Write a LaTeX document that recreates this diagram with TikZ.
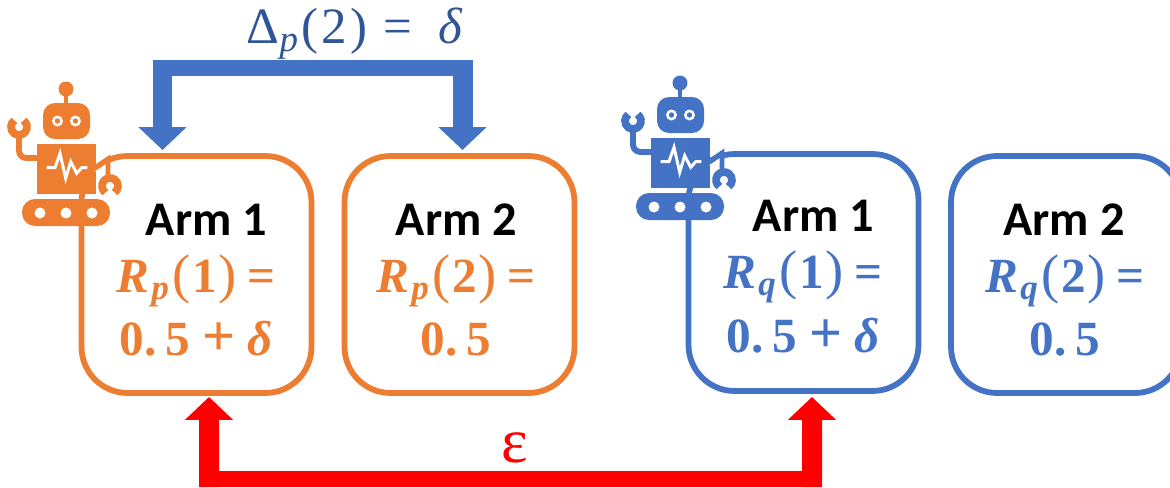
\documentclass[tikz,border=0pt]{standalone}
\usepackage[no-math]{fontspec}
\setmainfont{Carlito}
\newfontfamily\armmath{Liberation Serif}
\usetikzlibrary{arrows.meta}
\definecolor{armorange}{HTML}{ED7D31}
\definecolor{armblue}{HTML}{4472C4}
\definecolor{deltablue}{HTML}{2F5597}
\tikzset{
    armbox/.style={draw,line width=3.3pt,rounded corners=0.92cm,minimum width=4.6cm,minimum height=4.74cm,inner sep=0pt,outer sep=0pt},
    armtitle/.style={anchor=base,font=\fontsize{27.5}{30}\selectfont\bfseries,inner sep=0pt},
    armvalue/.style={anchor=base,font=\fontsize{28}{30}\selectfont\armmath\bfseries,inner sep=0pt},
    flowarrow/.style={-{Triangle[width=0.94cm,length=0.46cm]},line width=0.4cm},
    flowbar/.style={line width=0.32cm},
}
% bold rate and value lines of a box
\newcommand{\armrate}[2]{\textit{R}\kern1pt\raisebox{-4pt}{\fontsize{20}{20}\selectfont\textit{#1}}\kern2pt{\mdseries\fontsize{31}{30}\selectfont(}\kern1pt#2\kern1pt{\mdseries\fontsize{31}{30}\selectfont)}\kern6pt=}
\newcommand{\armhalf}{0.\kern5pt5}
\newcommand{\armsum}{\armhalf\kern7pt{\fontsize{33}{30}\selectfont+}\kern7pt\textit{δ}}
% robot, drawn at the position of the orange one and shifted by #1
\newcommand{\drawrobot}[2]{
    \begin{scope}[shift={(#1)}]
        \fill[#2] (66,89) circle (7.5);
        \fill[#2] (64,90) rectangle (68,105);
        \fill[#2,rounded corners=2.4mm] (43,103) rectangle (90,139);
        \foreach \x in {57.5,75.5} {
            \fill[white] (\x,121) circle (5.5);
            \fill[#2] (\x,121) circle (2.7);
        }
        \fill[#2] (37,144) rectangle (96,194);
        \draw[white,line width=1.7pt] (46.7,167.7) -- (55,167.7) -- (60,153.3) -- (65.7,178.3) -- (70.7,161.7) -- (76.7,173.3) -- (81.7,167.7) -- (87.3,167.7);
        % arms
        \draw[#2,line width=3.4pt,rounded corners=1.5mm] (38,158) -- (19,158) -- (19,136);
        \draw[#2,line width=4.4pt] ([shift={(305:8)}]19,127) arc[start angle=305,end angle=595,radius=8];
        \draw[white,line width=1.4pt] (96,172) -- (108,164);
        \draw[#2,line width=2.8pt] (95,168) -- (108,159) -- (108,178);
        \draw[#2,line width=4.4pt] ([shift={(125:8)}]110,186) arc[start angle=125,end angle=415,radius=8];
        % tracks
        \fill[#2,rounded corners=2.6mm] (22,199) rectangle (110,226);
        \foreach \x in {40,66,92}
            \fill[white] (\x,213) circle (5.5);
    \end{scope}
}
\begin{document}
\begin{tikzpicture}[x=0.02cm,y=-0.02cm]
    \clip (0,0) rectangle (1170,487);
    % boxes
    \node[armbox,draw=armorange] (armpa) at (196.5,274.5) {};
    \node[armbox,draw=armorange] (armpb) at (459.5,274.5) {};
    \node[armbox,draw=armblue] (armqa) at (803.5,272.5) {};
    \node[armbox,draw=armblue] (armqb) at (1066,274.5) {};
    % robots
    \drawrobot{0,0}{armorange}
    \drawrobot{614,-6}{armblue}
    % blue arrows
    \coordinate (gapleft) at (162.5,60);
    \coordinate (gapright) at (462.5,60);
    \draw[flowarrow,armblue] (gapleft) -- ([shift={(-34,-6)}]armpa.north);
    \draw[flowarrow,armblue] (gapright) -- ([shift={(3,-6)}]armpb.north);
    \draw[flowbar,armblue] ([shift={(-10,8)}]gapleft) -- ([shift={(10,8)}]gapright);
    % red arrows
    \coordinate (diffleft) at (209,487);
    \coordinate (diffright) at (812,487);
    \draw[flowarrow,red] (diffleft) -- ([shift={(12.5,4)}]armpa.south);
    \draw[flowarrow,red] (diffright) -- ([shift={(8.5,6)}]armqa.south);
    \draw[flowbar,red] ([shift={(-10,-8)}]diffleft) -- ([shift={(10,-8)}]diffright);
    % labels
    \node[anchor=base,deltablue,font=\fontsize{29}{30}\selectfont\armmath,inner sep=0pt] (gaplabel) at (355,43) {Δ\raisebox{-5pt}{\fontsize{21}{20}\selectfont\textit{p}}\kern2pt(\kern2pt2\kern2pt)\kern9pt=\kern15pt\textit{δ}};
    \node[anchor=base,red,font=\fontsize{36}{36}\selectfont\armmath,inner sep=0pt] (difflabel) at (515,462) {ε};
    % left pair
    \node[armtitle] (titlepa) at (206.5,235) {Arm 1};
    \node[armvalue,armorange] (ratepa) at (196,292) {\armrate{p}{1}};
    \node[armvalue,armorange] (valuepa) at (196,355) {\armsum};
    \node[armtitle] (titlepb) at (456.5,235) {Arm 2};
    \node[armvalue,armorange] (ratepb) at (456,292) {\armrate{p}{2}};
    \node[armvalue,armorange] (valuepb) at (456,355) {\armhalf};
    % right pair
    \node[armtitle] (titleqa) at (813.5,231) {Arm 1};
    \node[armvalue,armblue] (rateqa) at (803,288) {\armrate{q}{1}};
    \node[armvalue,armblue] (valueqa) at (803,352) {\armsum};
    \node[armtitle] (titleqb) at (1064,235) {Arm 2};
    \node[armvalue,armblue] (rateqb) at (1065,292) {\armrate{q}{2}};
    \node[armvalue,armblue] (valueqb) at (1065,355) {\armhalf};
\end{tikzpicture}
\end{document}
